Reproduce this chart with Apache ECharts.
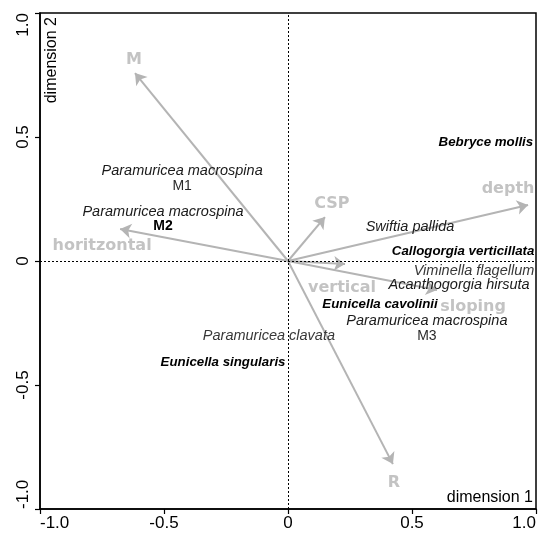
<!DOCTYPE html>
<html>
<head>
<meta charset="utf-8">
<script src="https://cdn.jsdelivr.net/npm/echarts@6/dist/echarts.min.js"></script>
<style>
  html, body { margin: 0; padding: 0; background: #fff; }
  #chart { width: 544px; height: 537px; }
</style>
</head>
<body>
<div id="chart"></div>
<script>
// Axis tick labels (both dimensions share the same scale)
const tickValues = [-1.0, -0.5, 0, 0.5, 1.0];
const tickLabels = ['-1.0', '-0.5', '0', '0.5', '1.0'];

// Environmental vectors (arrow tips)
const arrowNames = ['M', 'horitzontal', 'CSP', 'depth', 'vertical', 'sloping', 'R'];
const arrowX = [-0.617, -0.677, 0.149, 0.968, 0.230, 0.601, 0.423];
const arrowY = [0.758, 0.129, 0.177, 0.226, -0.012, -0.117, -0.819];

// Species scores
const speciesNames = [
  'Bebryce mollis', 'Paramuricea macrospina', 'Paramuricea macrospina',
  'Swiftia pallida', 'Callogorgia verticillata', 'Viminella flagellum',
  'Acanthogorgia hirsuta', 'Eunicella cavolinii', 'Paramuricea macrospina',
  'Paramuricea clavata', 'Eunicella singularis'
];
const speciesMorph = ['', 'M1', 'M2', '', '', '', '', '', 'M3', '', ''];
const speciesX = [0.798, -0.427, -0.504, 0.492, 0.706, 0.750, 0.690, 0.371, 0.560, -0.077, -0.262];
const speciesY = [0.480, 0.331, 0.169, 0.137, 0.040, -0.040, -0.097, -0.173, -0.272, -0.302, -0.407];

// Label styling
const boldSpecies = ['Bebryce mollis', 'Callogorgia verticillata', 'Eunicella cavolinii', 'Eunicella singularis'];
const greySpecies = ['Viminella flagellum', 'Paramuricea clavata'];
const boldMorph = ['M2'];
const arrowLabelOffset = {
  'M': [-1, -13], 'horitzontal': [-18, 17], 'CSP': [7, -13], 'depth': [-20, -16],
  'vertical': [-3, 24], 'sloping': [36, 17], 'R': [1, 19]
};

const ARROW_GREY = '#b4b4b4';
const SANS = '"Liberation Sans", Arial, Helvetica, sans-serif';

const chart = echarts.init(document.getElementById('chart'));

function tickText(v) {
  const i = tickValues.findIndex(t => Math.abs(t - v) < 1e-9);
  return i >= 0 ? tickLabels[i] : '';
}

function speciesLabel(i) {
  const n = speciesNames[i];
  const key = boldSpecies.includes(n) ? 'spb' : (greySpecies.includes(n) ? 'spg' : 'sp');
  let s = '{' + key + '|' + n + '}';
  const m = speciesMorph[i];
  if (m) s += '\n{' + (boldMorph.includes(m) ? 'mb' : 'm') + '|' + m + '}';
  return s;
}

function richStyle(extra) {
  return Object.assign({
    fontFamily: SANS, lineHeight: 15, align: 'center',
    textBorderWidth: 0, textBorderColor: 'transparent', textShadowBlur: 0, opacity: 1
  }, extra);
}

const axisCommon = {
  type: 'value',
  min: -1,
  max: 1,
  interval: 0.5,
  splitLine: { show: false },
  axisLine: { show: true, onZero: false, lineStyle: { color: '#000', width: 1.5 } },
  axisTick: { show: true, inside: false, length: 5, lineStyle: { color: '#000', width: 1.2 } },
};

chart.setOption({
  animation: false,
  backgroundColor: '#fff',
  grid: {
    left: 40, right: 8, top: 13, bottom: 28,
    show: true, borderColor: '#000', borderWidth: 1.5, backgroundColor: 'transparent'
  },
  xAxis: Object.assign({}, axisCommon, {
    axisLabel: {
      formatter: tickText, fontFamily: SANS, fontSize: 17, color: '#000', margin: 6,
      alignMinLabel: 'left', alignMaxLabel: 'right'
    }
  }),
  yAxis: Object.assign({}, axisCommon, {
    axisLabel: {
      formatter: tickText, fontFamily: SANS, fontSize: 17, color: '#000', margin: 8,
      rotate: 90, alignMinLabel: 'left', alignMaxLabel: 'right'
    }
  }),
  graphic: [
    {
      type: 'text', right: 11, top: 490, z: 100,
      style: { text: 'dimension 1', font: '16px ' + SANS, fill: '#000' }
    },
    {
      type: 'text', x: 52, y: 17, rotation: Math.PI / 2, z: 100,
      style: { text: 'dimension 2', font: '16px ' + SANS, fill: '#000', align: 'right', verticalAlign: 'middle' }
    }
  ],
  series: [
    {
      // reference lines through the origin
      type: 'line',
      data: [],
      silent: true,
      z: 1,
      markLine: {
        silent: true,
        symbol: 'none',
        label: { show: false },
        lineStyle: { color: '#000', type: [2, 2], width: 1 },
        data: [{ xAxis: 0 }, { yAxis: 0 }]
      }
    },
    {
      type: 'lines',
      coordinateSystem: 'cartesian2d',
      silent: true,
      z: 2,
      symbol: ['none', 'arrow'],
      symbolSize: 11,
      lineStyle: { color: ARROW_GREY, width: 2, opacity: 1 },
      data: arrowNames.map((n, i) => ({ name: n, coords: [[0, 0], [arrowX[i], arrowY[i]]] }))
    },
    {
      // vector names
      type: 'scatter',
      silent: true,
      z: 3,
      symbolSize: 0,
      itemStyle: { color: ARROW_GREY },
      data: arrowNames.map((n, i) => ({
        name: n,
        value: [arrowX[i], arrowY[i]],
        label: { offset: arrowLabelOffset[n] }
      })),
      label: {
        show: true,
        position: 'inside',
        formatter: p => p.name,
        fontFamily: '"DejaVu Sans", sans-serif',
        fontWeight: 'bold',
        fontSize: 16,
        color: ARROW_GREY,
        textBorderWidth: 0,
        textBorderColor: 'transparent'
      }
    },
    {
      type: 'scatter',
      silent: true,
      z: 4,
      symbolSize: 0,
      itemStyle: { color: '#fff' },
      data: speciesNames.map((n, i) => ({ name: n, value: [speciesX[i], speciesY[i]] })),
      label: {
        show: true,
        position: 'inside',
        align: 'center',
        color: '#111',
        textBorderWidth: 0,
        textBorderColor: 'transparent',
        formatter: p => speciesLabel(p.dataIndex),
        rich: {
          sp:  richStyle({ fontStyle: 'italic', fontSize: 14.5, color: '#1a1a1a' }),
          spg: richStyle({ fontStyle: 'italic', fontSize: 14.5, color: '#383838' }),
          spb: richStyle({ fontStyle: 'italic', fontWeight: 'bold', fontSize: 13.3, color: '#000' }),
          m:   richStyle({ fontSize: 14, color: '#2a2a2a' }),
          mb:  richStyle({ fontWeight: 'bold', fontSize: 14, color: '#000' })
        }
      }
    }
  ]
});
</script>
</body>
</html>
